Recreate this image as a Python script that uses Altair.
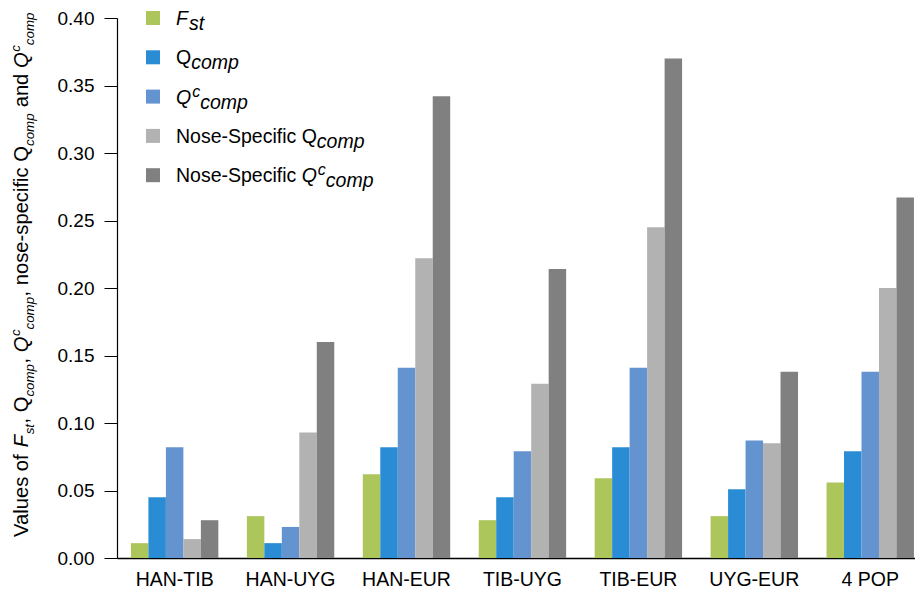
import altair as alt
import pandas as pd

# ---------------- data ----------------
pairs = ["HAN-TIB", "HAN-UYG", "HAN-EUR", "TIB-UYG", "TIB-EUR", "UYG-EUR", "4 POP"]
series_keys = ["Fst", "Qcomp", "Qccomp", "NS_Qcomp", "NS_Qccomp"]
fst = [0.011, 0.031, 0.062, 0.028, 0.059, 0.031, 0.056]
qcomp = [0.045, 0.011, 0.082, 0.045, 0.082, 0.051, 0.079]
qccomp = [0.082, 0.023, 0.141, 0.079, 0.141, 0.087, 0.138]
ns_qcomp = [0.014, 0.093, 0.222, 0.129, 0.245, 0.085, 0.200]
ns_qccomp = [0.028, 0.160, 0.342, 0.214, 0.370, 0.138, 0.267]
colors = ["#ADC65C", "#2A8CD4", "#6494CF", "#B2B2B2", "#808080"]
y_ticks = [0.0, 0.05, 0.10, 0.15, 0.20, 0.25, 0.30, 0.35, 0.40]

# legend label pieces: (text, kind, italic) kind: m=main, b=subscript, p=superscript
legend_parts = [
    [("F", "m", True), ("st", "b", True)],
    [("Q", "m", False), ("comp", "b", True)],
    [("Q", "m", True), ("c", "p", True), ("comp", "b", True)],
    [("Nose-Specific ", "m", False), ("Q", "m", False), ("comp", "b", True)],
    [("Nose-Specific ", "m", False), ("Q", "m", True), ("c", "p", True), ("comp", "b", True)],
]
# y-axis title pieces
title_parts = [
    ("Values of ", "m", False), ("F", "m", True), ("st", "b", True), (", ", "m", False),
    ("Q", "m", False), ("comp", "b", True), (", ", "m", False),
    ("Q", "m", True), ("c", "p", True), ("comp", "b", True),
    (", nose-specific ", "m", False), ("Q", "m", False), ("comp", "b", True),
    (" and ", "m", False), ("Q", "m", True), ("c", "p", True), ("comp", "b", True),
]

rows = []
for key, vals in zip(series_keys, [fst, qcomp, qccomp, ns_qcomp, ns_qccomp]):
    for p, v in zip(pairs, vals):
        rows.append({"pair": p, "series": key, "value": v})
df = pd.DataFrame(rows)

# ---------------- layout / style ----------------
FONT = "Liberation Sans"
W, H = 798, 540
PAD = {"left": 109, "top": 10, "right": 0, "bottom": 32}
ARIAL = {' ': 278, ',': 278, '-': 333, '.': 278, 'F': 611, 'N': 722, 'Q': 778, 'S': 667,
         'V': 667, 'a': 556, 'c': 500, 'd': 556, 'e': 556, 'f': 278, 'i': 222, 'l': 222,
         'm': 833, 'n': 556, 'o': 556, 'p': 556, 's': 500, 't': 278, 'u': 556}


def tw(s, size):
    return sum(ARIAL.get(ch, 556) for ch in s) * size / 1000.0


def piece(text, x, y, size, italic, angle=0):
    return alt.Chart(alt.Data(values=[{"k": 0}])).mark_text(
        align="left", baseline="alphabetic", font=FONT, fontSize=size,
        fontStyle="italic" if italic else "normal", angle=angle, color="black"
    ).encode(x=alt.value(x), y=alt.value(y), text=alt.value(text))


bars = alt.Chart(df).mark_bar().encode(
    x=alt.X("pair:N", sort=pairs, title=None,
            scale=alt.Scale(paddingInner=0.246, paddingOuter=0.0646, align=0.93),
            axis=alt.Axis(labelAngle=0, ticks=False, tickSize=0, labelPadding=12,
                          labelFontSize=19.5, labelFont=FONT, labelColor="black",
                          domainColor="black", domainWidth=1.3, grid=False)),
    xOffset=alt.XOffset("series:N", sort=series_keys,
                        scale=alt.Scale(paddingInner=0, paddingOuter=0)),
    y=alt.Y("value:Q", title=None, scale=alt.Scale(domain=[0, 0.4], nice=False),
            axis=alt.Axis(values=y_ticks, format=".2f", tickSize=13, tickColor="black",
                          labelPadding=10, labelFontSize=19, labelFont=FONT,
                          labelColor="black", domainColor="black", domainWidth=1.2,
                          grid=False)),
    color=alt.Color("series:N", sort=series_keys,
                    scale=alt.Scale(domain=series_keys, range=colors), legend=None),
)

layers = [bars]

# ---- legend ----
LG_X_SQ, LG_SQ = 29, 14
LG_X_TXT = 59
LG_Y0, LG_DY = 0, 39.3
MAIN_L, SUB_L, SUP_L = 19.5, 19.5, 16
for i, (parts, col) in enumerate(zip(legend_parts, colors)):
    cy = LG_Y0 + LG_DY * i
    sq = alt.Chart(alt.Data(values=[{"k": 0}])).mark_rect(color=col).encode(
        x=alt.value(LG_X_SQ), x2=alt.value(LG_X_SQ + LG_SQ),
        y=alt.value(cy - LG_SQ / 2), y2=alt.value(cy + LG_SQ / 2))
    layers.append(sq)
    base = cy + 7
    x = LG_X_TXT
    for text, kind, ital in parts:
        if kind == "m":
            layers.append(piece(text, x, base, MAIN_L, ital))
            x += tw(text, MAIN_L) + (1 if ital else 0)
        elif kind == "b":
            layers.append(piece(text, x, base + 5, SUB_L, ital))
            x += tw(text, SUB_L)
        else:
            layers.append(piece(text, x, base - 7, SUP_L, ital))
            x += tw(text, SUP_L)

# ---- y-axis title (rotated, built from pieces) ----
MAIN_T, SMALL_T = 20.2, 13.3
T_BASE_X = -89
t_pos = 519
for text, kind, ital in title_parts:
    size = MAIN_T if kind == "m" else SMALL_T
    lead = len(text) - len(text.lstrip(" "))
    core = text.lstrip(" ")
    t_pos -= tw(" " * lead, size)
    if kind == "m":
        layers.append(piece(core, T_BASE_X, t_pos, size, ital, angle=270))
        t_pos -= tw(core, size) + (0.5 if ital else 0)
    elif kind == "b":
        layers.append(piece(core, T_BASE_X + 5.5, t_pos, size, ital, angle=270))
        t_pos -= tw(core, size) + 0.5
    else:
        layers.append(piece(core, T_BASE_X - 8, t_pos, size, ital, angle=270))
        t_pos -= tw(core, size)

chart = alt.layer(*layers).properties(
    width=W, height=H,
    autosize=alt.AutoSizeParams(type="none"),
    padding=PAD,
    background="white",
).configure_view(stroke=None)

chart.save("out.html", embed_options={"renderer": "svg", "actions": False})
